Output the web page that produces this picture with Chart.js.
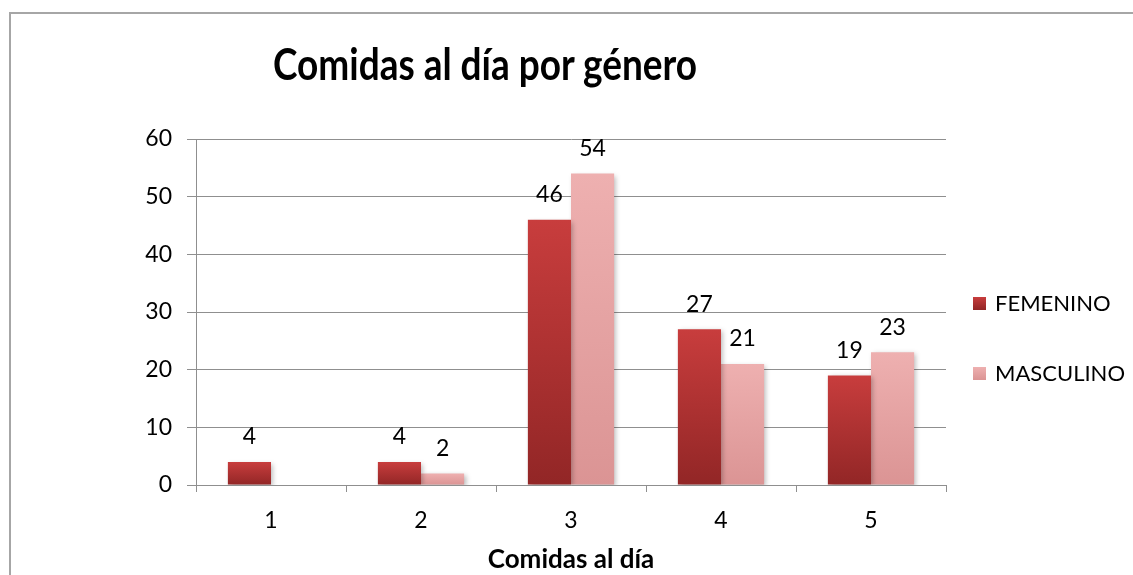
<!DOCTYPE html>
<html>
<head>
<meta charset="utf-8">
<script src="https://cdn.jsdelivr.net/npm/chart.js@4"></script>
<style>
  html, body { margin: 0; padding: 0; background: #fff; }
  #wrap { position: relative; width: 1133px; height: 575px; overflow: hidden; font-family: Lato, 'Open Sans', sans-serif; }
  #frame { position: absolute; left: 9px; top: 12px; width: 1200px; height: 700px; border-top: 2px solid #a6a6a6; border-left: 2px solid #a6a6a6; }
  #title { position: absolute; left: 0; width: 970px; top: 36px; text-align: center; font-weight: 700; font-size: 43px; line-height: 56px; color: #000; transform: scaleX(0.86); transform-origin: 485px 0; }
  #legend { position: absolute; left: 973px; top: 0; }
  .lg-item { position: absolute; left: 0; white-space: nowrap; font-size: 22px; line-height: 24px; color: #000; }
  .lg-box { display: inline-block; width: 13px; height: 13px; margin-right: 9px; vertical-align: 1px; }
  canvas { position: absolute; left: 0; top: 0; }
</style>
</head>
<body>
<div id="wrap">
  <div id="frame"></div>
  <canvas id="chart" width="1133" height="575"></canvas>
  <div id="title">Comidas al día por género</div>
  <div id="legend"></div>
</div>
<script>
// ── data ──────────────────────────────────────────────
const categories = ['1', '2', '3', '4', '5'];
const femenino   = [4, 4, 46, 27, 19];
const masculino  = [null, 2, 54, 21, 23];
const seriesNames = ['FEMENINO', 'MASCULINO'];
const yTicks = { min: 0, max: 60, step: 10 };

// colours: [top, bottom] of each bar
const palette = [
  { top: '#c83d3d', bottom: '#922626', flat: '#b53232' },
  { top: '#eeb0b0', bottom: '#db9494', flat: '#e39e9e' },
];
const GRID = '#8f8f8f';

function barFill(idx) {
  return ctx => {
    const chart = ctx.chart;
    const ys = chart.scales.y;
    if (!ys || ctx.parsed == null || ctx.parsed.y == null) return palette[idx].flat;
    const top = ys.getPixelForValue(ctx.parsed.y);
    const base = ys.getPixelForValue(0);
    if (!isFinite(top) || !isFinite(base) || base - top < 1) return palette[idx].flat;
    const g = chart.ctx.createLinearGradient(0, top, 0, base);
    g.addColorStop(0, palette[idx].top);
    g.addColorStop(1, palette[idx].bottom);
    return g;
  };
}

// value labels above bars
const valueLabels = {
  id: 'valueLabels',
  afterDatasetsDraw(chart) {
    const ctx = chart.ctx;
    ctx.save();
    ctx.font = '23px Lato, sans-serif';
    ctx.fillStyle = '#000';
    ctx.textAlign = 'center';
    ctx.textBaseline = 'middle';
    chart.data.datasets.forEach((ds, i) => {
      chart.getDatasetMeta(i).data.forEach((bar, j) => {
        const v = ds.data[j];
        if (v == null) return;
        ctx.fillText(String(v), bar.x, bar.y - 25);
      });
    });
    ctx.restore();
  }
};

// soft shadow under bars, like the spreadsheet bevel
const barShadow = {
  id: 'barShadow',
  beforeDatasetDraw(chart) {
    const ctx = chart.ctx;
    ctx.save();
    ctx.shadowColor = 'rgba(0,0,0,0.28)';
    ctx.shadowBlur = 5;
    ctx.shadowOffsetX = 2;
    ctx.shadowOffsetY = 2;
  },
  afterDatasetDraw(chart) { chart.ctx.restore(); }
};

const datasets = [femenino, masculino].map((vals, i) => ({
  label: seriesNames[i],
  data: vals,
  backgroundColor: barFill(i),
  borderWidth: 0,
  barPercentage: 1,
  categoryPercentage: 0.575,
}));

new Chart(document.getElementById('chart').getContext('2d'), {
  type: 'bar',
  data: { labels: categories, datasets },
  plugins: [barShadow, valueLabels],
  options: {
    responsive: false,
    animation: false,
    layout: { padding: { left: 0, right: 187, top: 139, bottom: 0 } },
    plugins: { legend: { display: false }, title: { display: false }, tooltip: { enabled: false } },
    scales: {
      x: {
        afterFit: s => { s.height = 90; },
        grid: { offset: true, drawOnChartArea: false, color: GRID, tickLength: 7 },
        border: { color: GRID, width: 1 },
        ticks: { color: '#000', font: { family: 'Lato', size: 23 }, padding: 15 },
        title: { display: true, text: 'Comidas al día', color: '#000', font: { family: 'Lato', size: 26, weight: 'bold' }, padding: { top: 0, bottom: 0 } },
      },
      y: {
        min: yTicks.min, max: yTicks.max,
        afterFit: s => { s.width = 196; },
        grid: { color: GRID, tickLength: 9 },
        border: { color: GRID, width: 1 },
        ticks: { stepSize: yTicks.step, color: '#000', font: { family: 'Lato', size: 23 }, padding: 15 },
      },
    },
  },
});

// legend
const legendY = [303, 373];
document.getElementById('legend').innerHTML = seriesNames.map((name, i) => `
  <div class="lg-item" style="top:${legendY[i] - 12}px">
    <span class="lg-box" style="background:linear-gradient(${palette[i].top}, ${palette[i].bottom})"></span>${name}
  </div>`).join('');
</script>
</body>
</html>
